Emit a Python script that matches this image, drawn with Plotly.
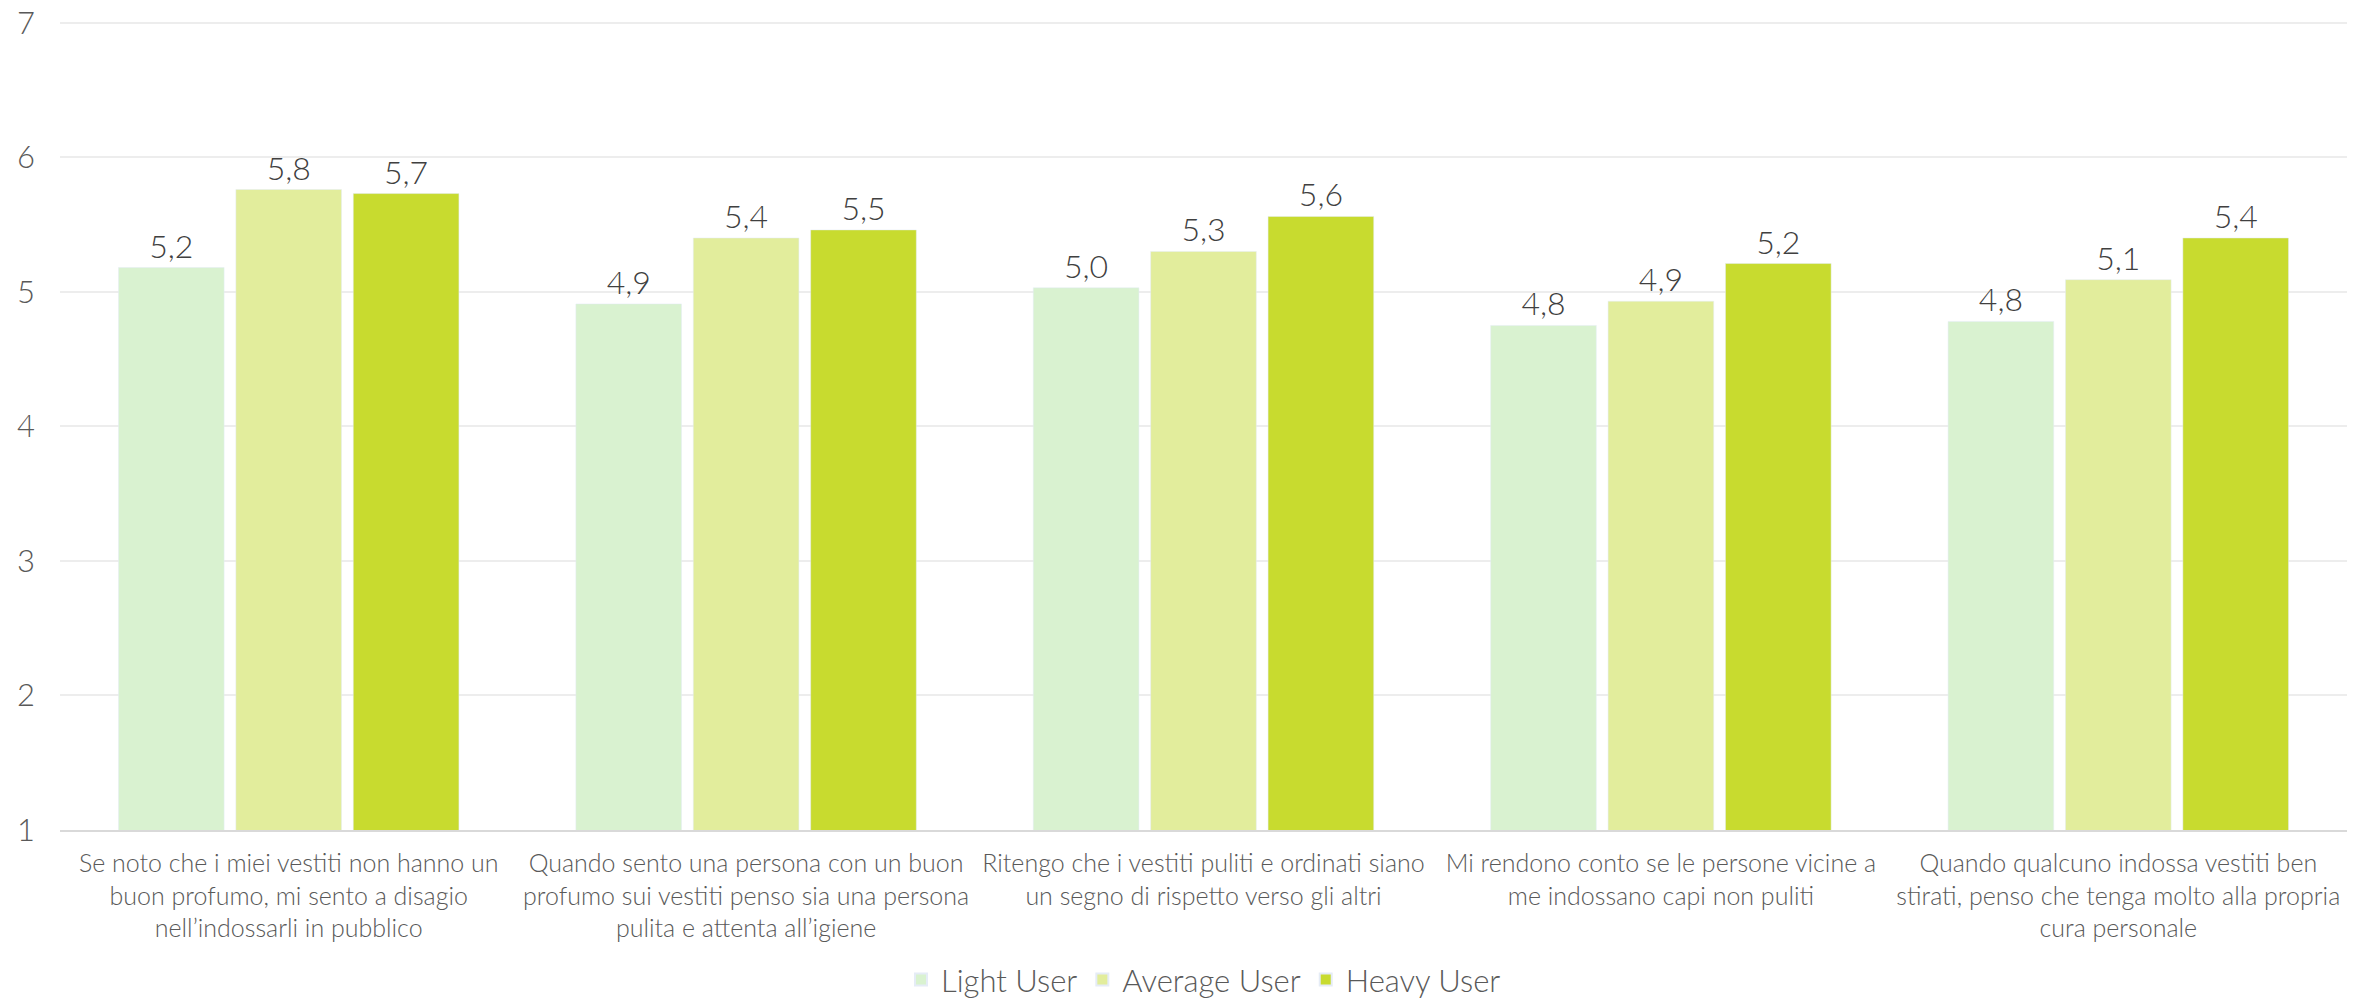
import plotly.graph_objects as go

categories = [
    "Se noto che i miei vestiti non hanno un<br>buon profumo, mi sento a disagio<br>nell’indossarli in pubblico",
    "Quando sento una persona con un buon<br>profumo sui vestiti penso sia una persona<br>pulita e attenta all’igiene",
    "Ritengo che i vestiti puliti e ordinati siano<br>un segno di rispetto verso gli altri",
    "Mi rendono conto se le persone vicine a<br>me indossano capi non puliti",
    "Quando qualcuno indossa vestiti ben<br>stirati, penso che tenga molto alla propria<br>cura personale",
]
light_user = [5.18, 4.91, 5.03, 4.75, 4.78]
average_user = [5.76, 5.40, 5.30, 4.93, 5.09]
heavy_user = [5.73, 5.46, 5.56, 5.21, 5.40]
series_names = ["Light User", "Average User", "Heavy User"]
colors = ["#D9F2D0", "#E2ED9C", "#C8DB2F"]

fig = go.Figure()
for name, vals, col in zip(series_names, [light_user, average_user, heavy_user], colors):
    fig.add_trace(go.Bar(
        x=categories, y=vals, name=name, marker_color=col,
        texttemplate="%{y:.1f}", textposition="outside",
        textfont=dict(size=32, color="#404040", family="Lato", weight=300),
        cliponaxis=False,
    ))

fig.update_layout(
    width=2369, height=1004,
    margin=dict(l=60, r=22, t=20, b=174, autoexpand=False),
    paper_bgcolor="white", plot_bgcolor="white",
    separators=",.",
    barmode="group", bargap=0.23, bargroupgap=0.1,
    font=dict(family="Lato", color="#595959"),
    legend=dict(orientation="h", x=0.5, xanchor="center", y=-0.185, yanchor="middle",
                font=dict(size=31, color="#595959", weight=300), traceorder="normal",
                tracegroupgap=0, itemsizing="constant"),
    showlegend=True,
)
fig.update_yaxes(range=[1, 7.02], dtick=1, tick0=1, showgrid=True, gridcolor="#EDEDED", gridwidth=2,
                 tickfont=dict(size=31, color="#595959", weight=300), zeroline=False, showline=False,
                 ticklabelstandoff=24, automargin=False)
fig.update_xaxes(showline=True, linecolor="#D9D9D9", linewidth=2,
                 tickfont=dict(size=25, color="#595959", weight=300),
                 ticklabelstandoff=10, tickangle=0, automargin=False)

fig.write_html("out.html")
